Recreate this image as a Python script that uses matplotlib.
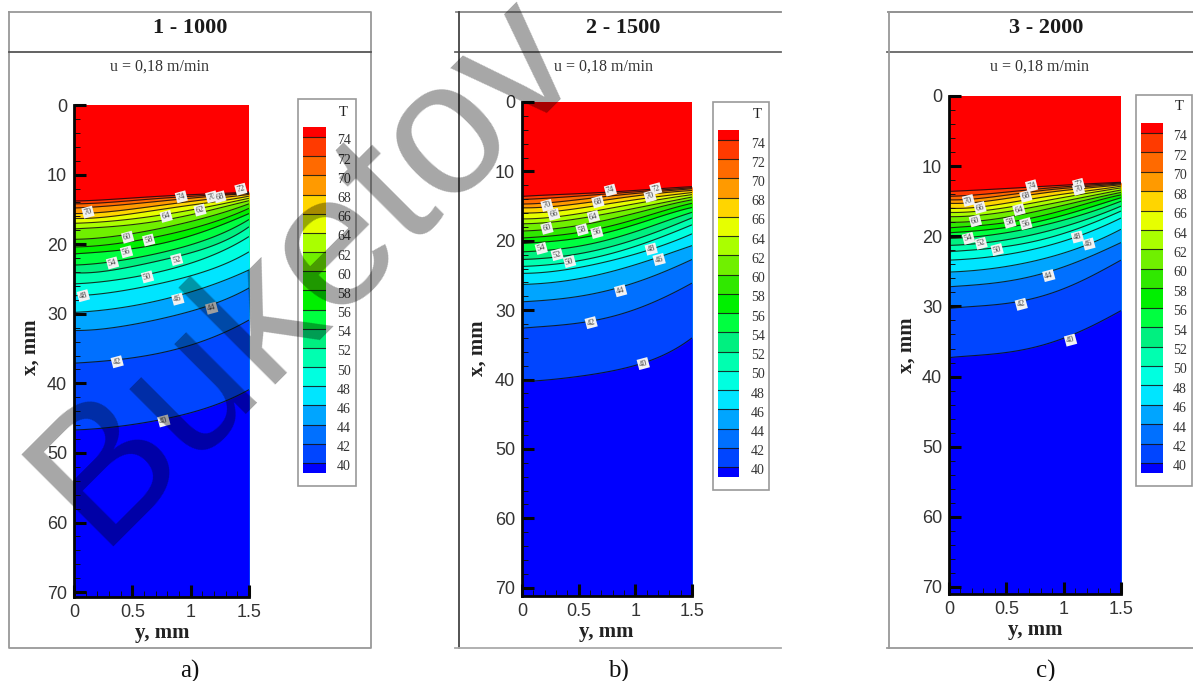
import numpy as np
import matplotlib
matplotlib.use("Agg")
import matplotlib.pyplot as plt
from matplotlib.patches import Rectangle
from matplotlib.lines import Line2D
from matplotlib.ticker import MultipleLocator, FixedLocator, FixedFormatter

W, H = 1193, 681
SERIF = "Liberation Serif"
SANS = "Liberation Sans"

levels = [74, 72, 70, 68, 66, 64, 62, 60, 58, 56, 54, 52, 50, 48, 46, 44, 42, 40]
# colour above 74, then each band below a level
band_colors = ["#FF0000", "#FF3A00", "#FF6A00", "#FF9A00", "#FFD500", "#E6FF00", "#AAFF00",
               "#70F000", "#30E800", "#00F000", "#00FF40", "#00F080", "#00FFB0", "#00FFE0",
               "#00E5FF", "#00A5FF", "#0070FF", "#0045FF", "#0000FF"]
y_samples = [0, 0.375, 0.75, 1.125, 1.5]

# depth x (mm) of each isotherm at y_samples, same order as levels
iso_a = [[13.8, 13.5, 13.1, 12.8, 12.5], [14.2, 13.9, 13.4, 13.0, 12.6], [14.8, 14.4, 13.8, 13.2, 12.7],
         [15.6, 15.2, 14.4, 13.6, 12.85], [16.3, 15.9, 15.0, 14.1, 13.1], [17.0, 16.6, 15.8, 14.7, 13.4],
         [17.8, 17.4, 16.6, 15.3, 13.75], [19.3, 18.8, 17.7, 16.2, 14.2], [20.4, 19.9, 18.8, 17.2, 14.85],
         [21.4, 20.9, 19.9, 18.1, 15.6], [23.0, 22.4, 21.2, 19.4, 16.45], [24.1, 23.6, 22.3, 20.6, 17.5],
         [25.7, 25.1, 23.9, 22.0, 18.9], [27.4, 26.8, 25.6, 23.9, 21.1], [29.8, 29.2, 28.0, 26.2, 23.7],
         [32.4, 31.9, 30.7, 29.0, 26.3], [37.1, 36.6, 35.6, 33.8, 30.9], [46.7, 46.2, 45.2, 43.6, 40.9]]
iso_b = [[13.6, 13.3, 13.0, 12.6, 12.2], [14.05, 13.7, 13.25, 12.8, 12.35], [14.7, 14.3, 13.6, 13.0, 12.5],
         [15.25, 14.9, 14.1, 13.3, 12.75], [16.0, 15.6, 14.7, 13.8, 13.05], [16.85, 16.4, 15.4, 14.3, 13.35],
         [17.55, 17.1, 16.1, 14.9, 13.7], [18.6, 18.1, 17.0, 15.5, 14.1], [19.6, 19.1, 18.0, 16.3, 14.6],
         [20.4, 19.9, 18.8, 17.0, 15.2], [21.6, 21.1, 19.9, 18.0, 15.9], [22.7, 22.2, 21.0, 19.1, 16.7],
         [23.7, 23.2, 22.0, 20.1, 17.7], [24.7, 24.2, 23.0, 21.3, 19.0], [26.3, 25.8, 24.6, 22.8, 20.7],
         [28.8, 28.3, 27.2, 25.3, 22.7], [32.6, 32.1, 31.1, 29.1, 26.1], [40.3, 39.8, 38.9, 37.3, 34.0]]
iso_c = [[13.6, 13.3, 12.95, 12.6, 12.3], [14.3, 13.9, 13.3, 12.8, 12.4], [14.8, 14.4, 13.6, 13.0, 12.5],
         [15.3, 14.9, 14.0, 13.25, 12.65], [16.0, 15.6, 14.6, 13.7, 12.85], [16.6, 16.2, 15.2, 14.1, 13.1],
         [17.2, 16.8, 15.8, 14.6, 13.4], [18.0, 17.6, 16.5, 15.1, 13.75], [18.8, 18.3, 17.3, 15.7, 14.1],
         [19.5, 19.0, 18.0, 16.4, 14.5], [20.3, 19.8, 18.7, 17.1, 15.0], [21.3, 20.8, 19.7, 18.0, 15.7],
         [22.2, 21.7, 20.7, 18.9, 16.4], [23.4, 22.9, 21.8, 20.0, 17.4], [25.1, 24.6, 23.5, 21.7, 19.0],
         [27.2, 26.7, 25.6, 23.6, 20.9], [30.3, 29.8, 28.8, 26.6, 23.4], [37.3, 36.8, 35.8, 33.7, 30.6]]

# contour labels: text, y, x
lab_a = [("72", 1.43, 12.1), ("74", .92, 13.2), ("70", 1.18, 13.2), ("68", 1.25, 13.2), ("70", .12, 15.4),
         ("62", 1.08, 15.1), ("64", .79, 16.0), ("60", .46, 19.0), ("58", .64, 19.4), ("56", .45, 21.1),
         ("54", .33, 22.7), ("52", .88, 22.2), ("50", .63, 24.7), ("48", .08, 27.4), ("46", .89, 27.9),
         ("44", 1.18, 29.2), ("42", .37, 36.9), ("40", .77, 45.4)]
lab_b = [("74", .78, 12.7), ("72", 1.18, 12.5), ("70", 1.13, 13.6), ("68", .67, 14.4), ("70", .22, 14.9),
         ("66", .28, 16.2), ("64", .63, 16.5), ("60", .22, 18.2), ("58", .53, 18.4), ("56", .66, 18.8),
         ("54", .17, 21.1), ("52", .31, 22.0), ("50", .42, 23.0), ("48", 1.14, 21.2), ("46", 1.21, 22.7),
         ("44", .87, 27.2), ("42", .61, 31.8), ("40", 1.07, 37.7)]
lab_c = [("74", .72, 12.8), ("72", 1.13, 12.6), ("70", 1.13, 13.3), ("68", .67, 14.3), ("70", .17, 14.9),
         ("66", .27, 15.9), ("64", .61, 16.2), ("60", .23, 17.8), ("58", .53, 18.0), ("56", .67, 18.2),
         ("54", .17, 20.3), ("52", .28, 21.0), ("50", .42, 21.9), ("48", 1.12, 20.1), ("46", 1.22, 21.1),
         ("44", .87, 25.6), ("42", .63, 29.7), ("40", 1.06, 34.8)]

titles = ["1 - 1000", "2 - 1500", "3 - 2000"]
subtitle = "u = 0,18 m/min"
captions = ["a)", "b)", "c)"]
x_ticks = [0, 0.5, 1, 1.5]
x_ticklabels = ["0", "0.5", "1", "1.5"]
depth_ticks = [0, 10, 20, 30, 40, 50, 60, 70]

panels = [
    dict(iso=iso_a, lab=lab_a, rect=(74, 249, 105, 597), xmax=70.7, title_x=190, sub_x=160, cap_x=190,
         xl=(162, 633), yl=(31, 347), box=(298, 356, 99, 486), bar=(303, 326), l74=137, l40=463,
         lx=337, t=(343, 112)),
    dict(iso=iso_b, lab=lab_b, rect=(522, 692, 102, 596), xmax=71.2, title_x=623, sub_x=604, cap_x=618,
         xl=(606, 632), yl=(478, 348), box=(713, 769, 102, 490), bar=(718, 739), l74=140, l40=467,
         lx=751, t=(757, 114)),
    dict(iso=iso_c, lab=lab_c, rect=(949, 1121, 96, 594), xmax=71.0, title_x=1046, sub_x=1039, cap_x=1046,
         xl=(1035, 630), yl=(907, 345), box=(1136, 1192, 95, 486), bar=(1141, 1163), l74=133, l40=463,
         lx=1173, t=(1179, 107)),
]

fig = plt.figure(figsize=(W / 100, H / 100), dpi=100, facecolor="white")


def fx(p):
    return p / W


def fy(p):
    return 1 - p / H


def add_axes(x0, x1, y0, y1, **kw):
    return fig.add_axes([fx(x0), fy(y1), (x1 - x0) / W, (y1 - y0) / H], **kw)


def fline(xs, ys, color="#999999", lw=1.3):
    fig.add_artist(Line2D([fx(v) for v in xs], [fy(v) for v in ys], color=color, lw=lw))


# frames
fline([9, 371, 371, 9, 9], [12, 12, 648, 648, 12])
fline([9, 371], [52, 52], "#555555")
fline([456, 781], [12, 12], "#888888")
fline([455, 781], [52, 52], "#666666")
fline([459, 459], [12, 648], "#444444")
fline([455, 781], [648, 648], "#aaaaaa")
fline([888, 1193], [12, 12], "#888888")
fline([887, 1193], [52, 52], "#666666")
fline([889, 889], [12, 648], "#999999")
fline([887, 1193], [648, 648], "#999999")

yy = np.linspace(0, 1.5, 120)
for i, p in enumerate(panels):
    x0, x1, y0, y1 = p["rect"]
    ax = add_axes(x0, x1, y0, y1)
    ax.set_xlim(0, 1.5)
    ax.set_ylim(p["xmax"], 0)
    ax.set_facecolor(band_colors[0])
    curves = [np.polyval(np.polyfit(y_samples, row, 4), yy) for row in p["iso"]]
    for c, col in zip(curves, band_colors[1:]):
        ax.fill_between(yy, c, p["xmax"], color=col, lw=0)
    for c in curves:
        ax.plot(yy, c, color="#101010", lw=0.8, alpha=0.85, solid_capstyle="butt")
    for txt, ly, lx in p["lab"]:
        ax.text(ly, lx, txt, fontsize=6, family=SERIF, ha="center", va="center", color="#444444", rotation=15,
                bbox=dict(boxstyle="square,pad=0.15", fc="#f2f2f2", ec="none"))
    for s in ("top", "right"):
        ax.spines[s].set_visible(False)
    for s in ("left", "bottom"):
        ax.spines[s].set_linewidth(2)
        ax.spines[s].set_color("#050505")
    ax.xaxis.set_major_locator(FixedLocator(x_ticks))
    ax.xaxis.set_major_formatter(FixedFormatter(x_ticklabels))
    ax.xaxis.set_minor_locator(MultipleLocator(0.1))
    ax.yaxis.set_major_locator(FixedLocator(depth_ticks))
    ax.yaxis.set_minor_locator(MultipleLocator(2))
    ax.tick_params(which="major", direction="in", length=8.5, width=2.2, color="#050505",
                   labelsize=13, labelcolor="#333333", pad=5)
    ax.tick_params(which="minor", direction="in", length=4, width=0.7, color="#101010")
    for lb in ax.get_xticklabels() + ax.get_yticklabels():
        lb.set_family(SANS)

    fig.text(fx(p["xl"][0]), fy(p["xl"][1]), "y, mm", family=SERIF, weight="bold", fontsize=15,
             ha="center", va="center", color="#222222")
    fig.text(fx(p["yl"][0]), fy(p["yl"][1]), "x, mm", family=SERIF, weight="bold", fontsize=15,
             ha="center", va="center", rotation=90, color="#222222")
    fig.text(fx(p["title_x"]), fy(28), titles[i], family=SERIF, weight="bold", fontsize=16,
             ha="center", va="center", color="#1a1a1a")
    fig.text(fx(p["sub_x"]), fy(67), subtitle, family=SERIF, fontsize=11.5,
             ha="center", va="center", color="#333333")
    fig.text(fx(p["cap_x"]), fy(671), captions[i], family=SERIF, fontsize=18,
             ha="center", va="center", color="#111111")

    # legend
    bx0, bx1, by0, by1 = p["box"]
    fig.add_artist(Rectangle((fx(bx0), fy(by1)), (bx1 - bx0) / W, (by1 - by0) / H, transform=fig.transFigure,
                             fc="white", ec="#999999", lw=1.2))
    pad_top, pad_bot = 10, 10
    per = (p["l40"] - p["l74"]) / (levels[0] - levels[-1])
    lax = add_axes(p["bar"][0], p["bar"][1], p["l74"] - pad_top, p["l40"] + pad_bot, zorder=2)
    top_val = levels[0] + pad_top / per
    bot_val = levels[-1] - pad_bot / per
    lax.set_xlim(0, 1)
    lax.set_ylim(bot_val, top_val)
    edges = [top_val] + levels + [bot_val]
    for j, col in enumerate(band_colors):
        lax.axhspan(edges[j + 1], edges[j], color=col, lw=0)
    for lv in levels:
        lax.axhline(lv, color="#151515", lw=0.8, alpha=0.85)
    lax.axis("off")
    for lv in levels:
        fig.text(fx(p["lx"]), fy(p["l74"] + (levels[0] - lv) * per + 4), str(lv), family=SERIF, fontsize=10,
                 ha="left", va="center", color="#333333", zorder=3)
    fig.text(fx(p["t"][0]), fy(p["t"][1]), "T", family=SERIF, fontsize=10.5, ha="center", va="center",
             color="#222222", zorder=3)

# watermark
fig.text(fx(98), fy(547), "Buketov", family=SANS, fontsize=137, rotation=45, rotation_mode="anchor",
         ha="left", va="baseline", color="black", alpha=0.35, zorder=20)

fig.savefig("out.png", dpi=100)
